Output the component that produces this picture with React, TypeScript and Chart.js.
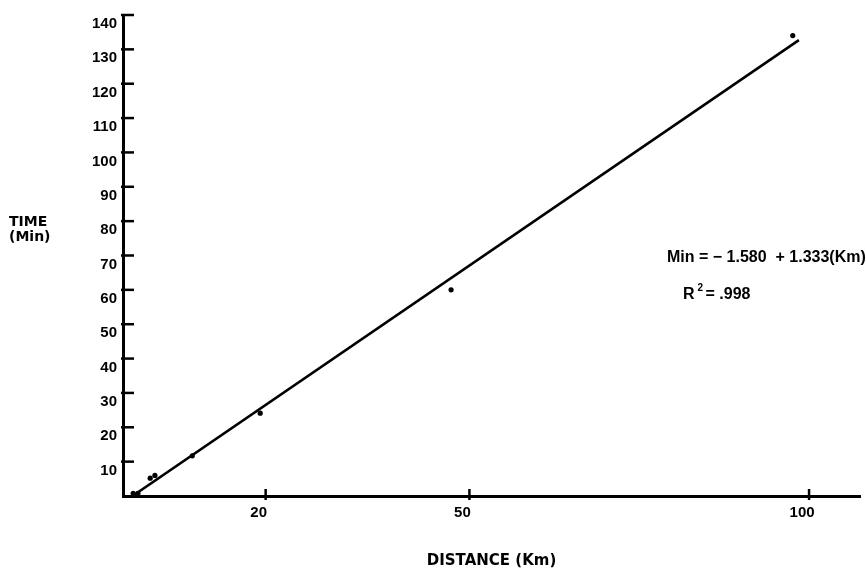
import React, { useEffect, useRef } from "react";
import { Chart, registerables } from "chart.js";

Chart.register(...registerables);

// Observed trips: distance (Km) vs time (Min)
const kmObserved = [0.5, 1.2, 3.0, 3.7, 9.2, 19.2, 47.3, 97.6];
const minObserved = [0.8, 0.8, 5.2, 6.0, 11.7, 24.1, 60.0, 134.0];

// Fitted regression line end points as drawn
const fitKm = [0.4, 98.5];
const fitMin = [0, 132.7];

const xTickValues = [20, 50, 100];
const yTickValues = [10, 20, 30, 40, 50, 60, 70, 80, 90, 100, 110, 120, 130, 140];

const xTitle = "DISTANCE (Km)";
const yTitleLines = ["TIME", "(Min)"];
const equationText = "Min = \u2212 1.580  + 1.333(Km)";
const r2Value = ".998";

const decorPlugin = {
  id: "decor",
  afterDraw(chart: any) {
    const ctx = chart.ctx as CanvasRenderingContext2D;
    const xs = chart.scales.x;
    const ys = chart.scales.y;
    const area = chart.chartArea;
    ctx.save();
    ctx.strokeStyle = "#000";
    ctx.lineWidth = 2.5;
    yTickValues.forEach((v) => {
      const py = ys.getPixelForValue(v);
      ctx.beginPath();
      ctx.moveTo(area.left - 2, py);
      ctx.lineTo(area.left + 11, py);
      ctx.stroke();
    });
    xTickValues.forEach((v) => {
      const px = xs.getPixelForValue(v);
      ctx.beginPath();
      ctx.moveTo(px, area.bottom - 7);
      ctx.lineTo(px, area.bottom + 4);
      ctx.stroke();
    });

    ctx.fillStyle = "#000";
    ctx.textBaseline = "middle";
    ctx.textAlign = "left";
    ctx.font = 'bold 14px "DejaVu Sans"';
    ctx.fillText(yTitleLines[0], 9, 222);
    ctx.fillText(yTitleLines[1], 9, 237);

    ctx.font = 'bold 16px "Liberation Sans"';
    ctx.fillText(equationText, 667, 258);

    ctx.fillText("R", 683, 295);
    const rw = ctx.measureText("R").width;
    ctx.font = 'bold 10px "Liberation Sans"';
    ctx.fillText("2", 683 + rw + 3, 288);
    ctx.font = 'bold 16px "Liberation Sans"';
    ctx.fillText("= " + r2Value, 683 + rw + 11, 295);
    ctx.restore();
  },
};

export default function App() {
  const ref = useRef<HTMLCanvasElement>(null);

  useEffect(() => {
    document.body.style.margin = "0";
    const observed = kmObserved.map((k, i) => ({ x: k, y: minObserved[i] }));
    const fit = fitKm.map((k, i) => ({ x: k, y: fitMin[i] }));
    const tickFont = { family: "Liberation Sans", size: 15, weight: "bold" as const };

    const chart = new Chart(ref.current!, {
      type: "scatter",
      data: {
        datasets: [
          {
            type: "line",
            label: "Fit",
            data: fit,
            borderColor: "#000",
            borderWidth: 2.6,
            pointRadius: 0,
            fill: false,
          } as any,
          {
            type: "scatter",
            label: "Observed",
            data: observed,
            backgroundColor: "#000",
            borderColor: "#000",
            pointRadius: 2.6,
            borderWidth: 0,
          },
        ],
      },
      plugins: [decorPlugin],
      options: {
        responsive: false,
        animation: false,
        devicePixelRatio: 1,
        layout: { padding: { left: 0, right: 6, top: 7, bottom: 0 } },
        plugins: {
          legend: { display: false },
          tooltip: { enabled: false },
        },
        scales: {
          x: {
            type: "linear",
            min: -1,
            max: 107.5,
            grid: { display: false, drawTicks: false },
            border: { display: true, color: "#000", width: 3 },
            afterBuildTicks: (scale: any) => {
              scale.ticks = xTickValues.map((v) => ({ value: v }));
            },
            afterFit: (scale: any) => {
              scale.height = 79;
            },
            ticks: {
              color: "#000",
              font: tickFont,
              padding: 8,
              labelOffset: -7,
              maxRotation: 0,
              autoSkip: false,
            },
            title: {
              display: true,
              text: xTitle,
              color: "#000",
              font: { family: "DejaVu Sans", size: 15, weight: "bold" },
              padding: { top: 0, bottom: 5 },
            },
          },
          y: {
            type: "linear",
            min: 0,
            max: 140,
            grid: { display: false, drawTicks: false },
            border: { display: true, color: "#000", width: 3 },
            afterBuildTicks: (scale: any) => {
              scale.ticks = yTickValues.map((v) => ({ value: v }));
            },
            afterFit: (scale: any) => {
              scale.width = 123;
            },
            ticks: {
              color: "#000",
              font: tickFont,
              padding: 6,
              labelOffset: 9,
              autoSkip: false,
            },
          },
        },
      },
    });
    return () => chart.destroy();
  }, []);

  return (
    <div style={{ width: 866, height: 575, position: "relative", background: "#fff" }}>
      <canvas ref={ref} width={866} height={575} style={{ display: "block" }} />
    </div>
  );
}
